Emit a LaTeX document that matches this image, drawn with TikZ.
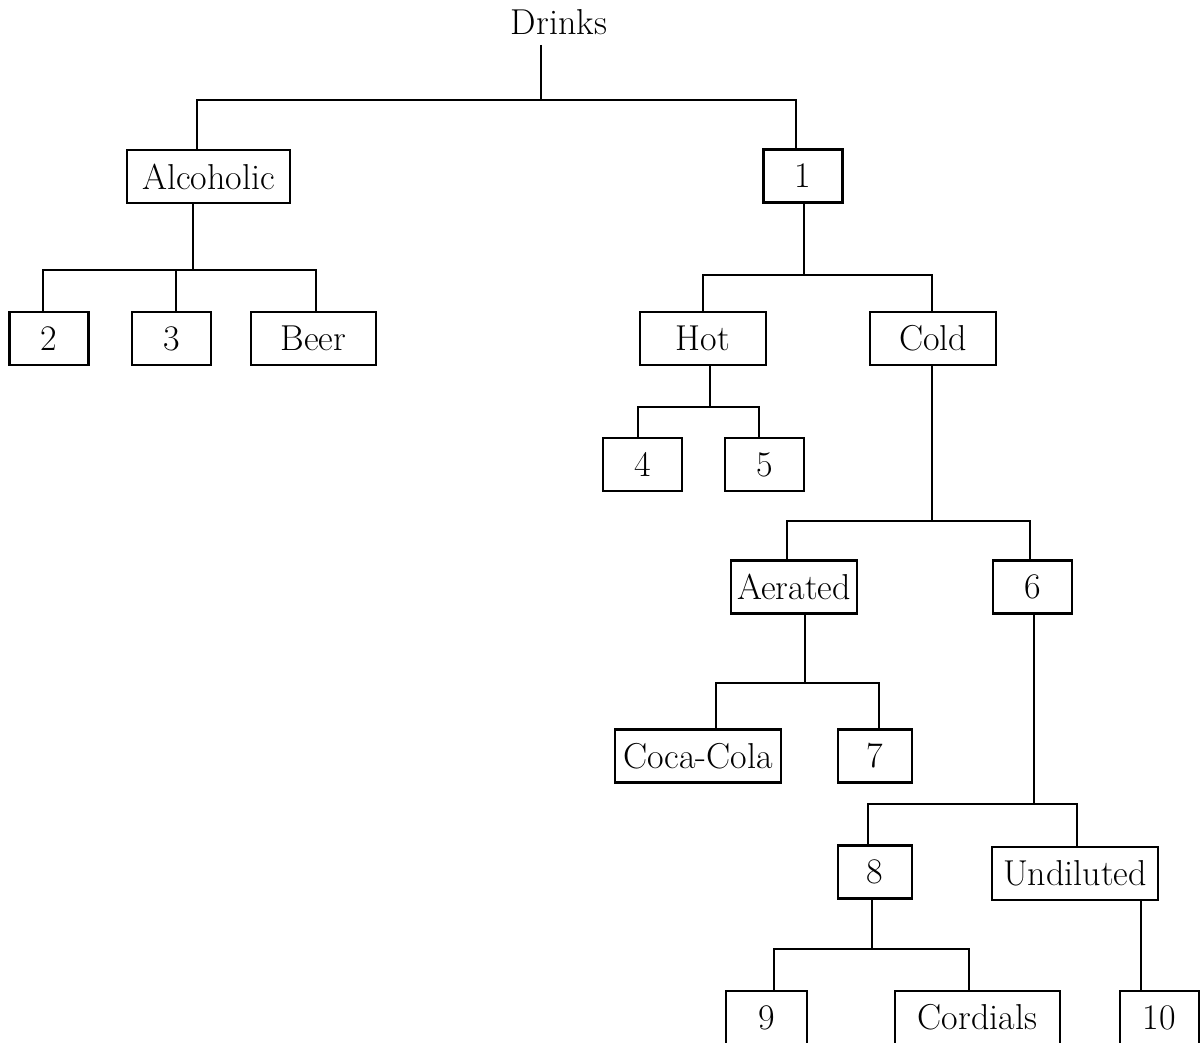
\documentclass[tikz,border=0pt]{standalone}
\usetikzlibrary{calc}

\tikzset{
  box/.style={draw, line width=1.4pt, minimum height=1.06cm, minimum width=1.58cm,
    inner sep=0pt, font=\fontsize{20.5}{24}\selectfont},
  link/.style={line width=1.4pt}
}

\begin{document}
\begin{tikzpicture}[x=0.02cm, y=-0.02cm]
\useasboundingbox (0,0) rectangle (1200,1042);
\clip (0,0) rectangle (1200,1042);

% root and first level
\node[font=\fontsize{20.5}{24}\selectfont] (drinks) at (559,22) {Drinks};
\node[box, minimum width=3.26cm] (alcoholic) at (208.5,176.5) {Alcoholic};
\node[box] (one) at (803,176) {1};

% alcoholic drinks
\node[box] (two) at (49,338.5) {2};
\node[box] (three) at (171.5,338.5) {3};
\node[box, minimum width=2.5cm] (beer) at (313.5,338.5) {Beer};

% hot and cold
\node[box, minimum width=2.52cm] (hot) at (703,338.5) {Hot};
\node[box, minimum width=2.52cm] (cold) at (933,338.5) {Cold};
\node[box] (four) at (642.5,464.5) {4};
\node[box] (five) at (764.5,464.5) {5};

\node[box, minimum width=2.52cm] (aerated) at (794,587) {Aerated};
\node[box] (six) at (1032.5,587) {6};
\node[box, minimum width=3.32cm] (cocacola) at (698,756) {Coca-Cola};
\node[box, minimum width=1.48cm] (seven) at (875,756) {7};

\node[box, minimum width=1.48cm] (eight) at (875,872) {8};
\node[box, minimum width=3.32cm] (undiluted) at (1075,873.5) {Undiluted};
\node[box, minimum width=1.62cm] (nine) at (766.5,1017.5) {9};
\node[box, minimum width=3.3cm] (cordials) at (977.5,1017.5) {Cordials};
\node[box] (ten) at (1159.5,1017.5) {10};

% connectors
\coordinate (b0) at (541,100);
\draw[link] ($(drinks.south -| b0)+(0,4)$) -- (b0);
\draw[link] (b0) -| ($(alcoholic.north)+(-11.5,0)$);
\draw[link] (b0) -| ($(one.north)+(-7,0)$);

\coordinate (b1) at (193,270);
\draw[link] (alcoholic.south -| b1) -- (b1);
\draw[link] (b1) -| ($(two.north)+(-6,0)$);
\draw[link] (b1) -| ($(three.north)+(4.5,0)$);
\draw[link] (b1) -| ($(beer.north)+(2.5,0)$);

\coordinate (b2) at (804,275);
\draw[link] (one.south -| b2) -- (b2);
\draw[link] (b2) -| (hot.north);
\draw[link] (b2) -| ($(cold.north)+(-1,0)$);

\coordinate (b3) at (710,407);
\draw[link] (hot.south -| b3) -- (b3);
\draw[link] (b3) -| ($(four.north)+(-4.5,0)$);
\draw[link] (b3) -| ($(five.north)+(-5.5,0)$);

\coordinate (b4) at (932,521);
\draw[link] (cold.south -| b4) -- (b4);
\draw[link] (b4) -| ($(aerated.north)+(-7,0)$);
\draw[link] (b4) -| ($(six.north)+(-2.5,0)$);

\coordinate (b5) at (805,683);
\draw[link] (aerated.south -| b5) -- (b5);
\draw[link] (b5) -| ($(cocacola.north)+(18,0)$);
\draw[link] (b5) -| ($(seven.north)+(4,0)$);

\coordinate (b6) at (1034,804);
\draw[link] (six.south -| b6) -- (b6);
\draw[link] (b6) -| ($(eight.north)+(-7,0)$);
\draw[link] (b6) -| ($(undiluted.north)+(2,0)$);

\coordinate (b7) at (872,949);
\draw[link] (eight.south -| b7) -- (b7);
\draw[link] (b7) -| ($(nine.north)+(7.5,0)$);
\draw[link] (b7) -| ($(cordials.north)+(-8.5,0)$);

\coordinate (b8) at (1141,0);
\draw[link] (undiluted.south -| b8) -- (ten.north -| b8);

\end{tikzpicture}
\end{document}
